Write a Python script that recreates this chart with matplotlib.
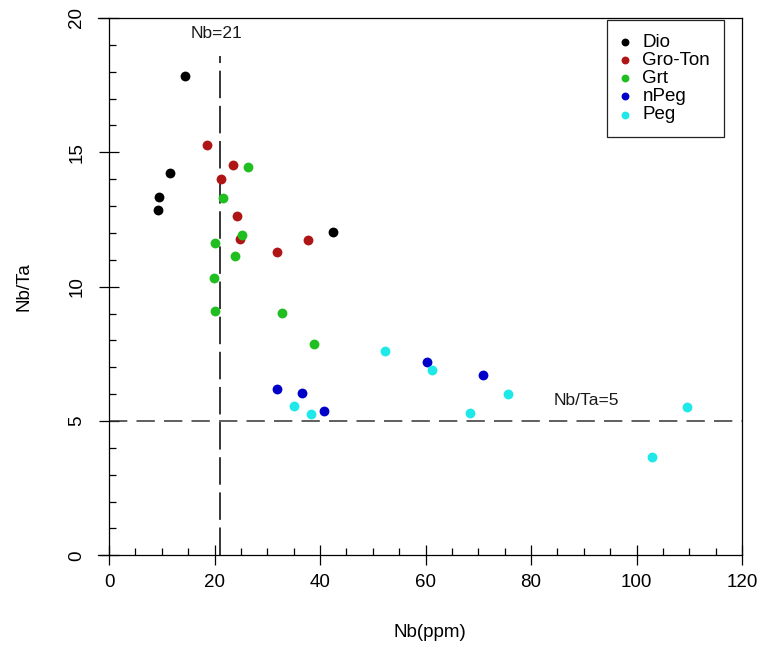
import matplotlib
matplotlib.use("Agg")
import matplotlib.pyplot as plt
from matplotlib.ticker import MultipleLocator

plt.rcParams['font.family'] = ['Liberation Sans', 'DejaVu Sans']

# data
dio_nb = [14.4, 11.6, 9.4, 9.2, 42.5]
dio_ratio = [17.85, 14.23, 13.32, 12.84, 12.03]

gro_nb = [18.5, 23.5, 21.2, 24.2, 24.8, 37.8, 31.8]
gro_ratio = [15.26, 14.54, 14.0, 12.63, 11.76, 11.72, 11.28]

grt_nb = [26.3, 21.6, 25.2, 20.1, 23.8, 19.9, 20.1, 32.8, 38.9]
grt_ratio = [14.46, 13.30, 11.92, 11.63, 11.14, 10.33, 9.08, 9.03, 7.87]

npeg_nb = [60.3, 31.8, 36.6, 40.8, 70.9]
npeg_ratio = [7.2, 6.18, 6.05, 5.38, 6.72]

peg_nb = [52.3, 61.3, 35.1, 38.2, 75.7, 68.5, 109.5, 102.9]
peg_ratio = [7.61, 6.89, 5.55, 5.25, 6.0, 5.30, 5.52, 3.65]

nb_limit = 21
ratio_limit = 5

fig = plt.figure(figsize=(7.6, 6.49), dpi=100)
ax = fig.add_axes([98/760, 1 - 555.3/649, 644/760, 537.3/649])

ms = 50
ax.scatter(dio_nb, dio_ratio, s=ms, color='black', label='Dio', zorder=3, linewidths=0)
ax.scatter(gro_nb, gro_ratio, s=ms, color='#B01515', label='Gro-Ton', zorder=3, linewidths=0)
ax.scatter(grt_nb, grt_ratio, s=ms, color='#20BE20', label='Grt', zorder=3, linewidths=0)
ax.scatter(npeg_nb, npeg_ratio, s=ms, color='#0000C8', label='nPeg', zorder=3, linewidths=0)
ax.scatter(peg_nb, peg_ratio, s=ms, color='#1EE8E8', label='Peg', zorder=3, linewidths=0)

# reference lines
ax.plot([nb_limit, nb_limit], [0, 18.6], color='black', lw=1.1, dashes=(18, 5))
ax.plot([0, 120], [ratio_limit, ratio_limit], color='#333333', lw=1.1, dashes=(12, 6))
ax.text(20.3, 19.44, 'Nb=21', fontsize=12.5, ha='center', va='center', color='#1a1a1a')
ax.text(90.4, 5.78, 'Nb/Ta=5', fontsize=12.5, ha='center', va='center', color='#1a1a1a')

ax.set_xlim(-2.1, 120)
ax.set_ylim(0, 20)
ax.spines['left'].set_position(('data', 0))
for sp in ax.spines.values():
    sp.set_linewidth(0.9)

ax.xaxis.set_major_locator(MultipleLocator(20))
ax.xaxis.set_minor_locator(MultipleLocator(5))
ax.yaxis.set_major_locator(MultipleLocator(5))
ax.yaxis.set_minor_locator(MultipleLocator(1))
ax.tick_params(which='major', direction='inout', length=14.4, width=0.9, labelsize=13.5)
ax.tick_params(which='minor', direction='in', length=5, width=0.9)
ax.tick_params(axis='x', which='major', pad=6)
ax.tick_params(axis='y', which='major', pad=10)
for lab in ax.get_yticklabels():
    lab.set_rotation(90)
    lab.set_va('center')

ax.set_xlabel('Nb(ppm)', fontsize=13.5)
ax.set_ylabel('Nb/Ta', fontsize=13.5)
ax.xaxis.set_label_coords(0.5155, -0.128)
ax.yaxis.label.set_va('center')
ax.yaxis.set_label_coords(-0.115, 0.5)

leg = ax.legend(loc='upper left', bbox_to_anchor=(0.790, 0.9963), fontsize=13.5,
                frameon=True, fancybox=False, framealpha=1, edgecolor='#222222',
                borderpad=0.75, labelspacing=0.05, handlelength=0.4,
                handletextpad=0.75, markerscale=0.8, borderaxespad=0)
leg.get_frame().set_linewidth(0.9)

fig.savefig('out.png', dpi=100)
